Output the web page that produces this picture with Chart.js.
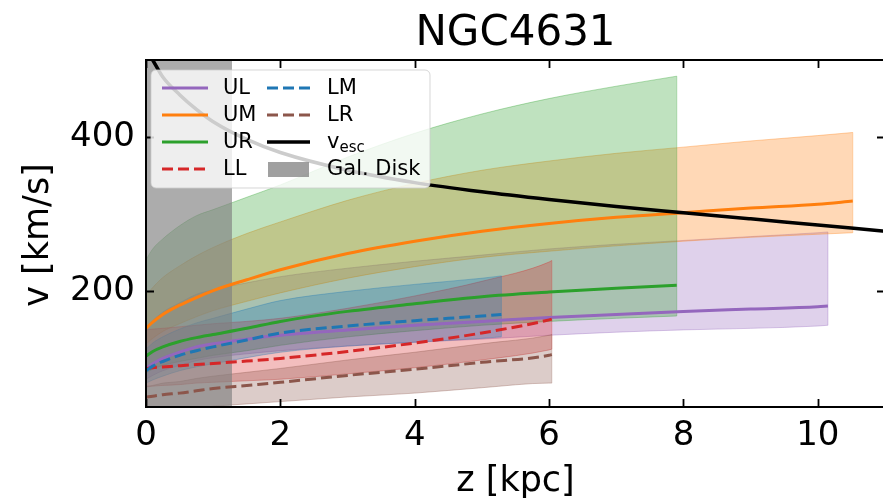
<!DOCTYPE html>
<html>
<head>
<meta charset="utf-8">
<script src="https://cdn.jsdelivr.net/npm/chart.js@4/dist/chart.umd.min.js"></script>
<style>
  html, body { margin: 0; padding: 0; background: #fff; overflow: hidden; }
</style>
</head>
<body>
<canvas id="chart" width="890" height="500"></canvas>
<script>
// values (z in kpc, v in km/s)
const zUL = [0, 0.1, 0.25, 0.5, 0.75, 1, 1.5, 2, 3, 4, 5, 6, 7, 8, 9, 10, 10.15];
const vUL = [100, 106, 113, 121, 128, 132, 138, 143, 150, 156, 161, 166, 170, 174, 177, 180, 181];
const vULhi = [153, 162, 173, 185, 196, 202, 211, 219, 230, 239, 247, 255, 261, 266, 271, 276, 277];
const vULlo = [86, 91, 97, 104, 110, 114, 119, 123, 129, 134, 138, 143, 147, 150, 152, 155, 156];

const zUM = [0, 0.1, 0.25, 0.5, 0.75, 1, 1.5, 2, 3, 4, 5, 6, 7, 8, 9, 10, 10.52];
const vUM = [152, 160, 170, 182, 192, 201, 215, 228, 249, 265, 278, 288, 296, 302, 308, 313, 317];
const vUMhi = [195, 205, 218, 233, 246, 257, 275, 290, 318, 340, 357, 369, 379, 387, 395, 402, 406];
const vUMlo = [132, 139, 148, 158, 167, 175, 187, 198, 217, 232, 244, 252, 259, 265, 270, 274, 276];

const zUR = [0, 0.1, 0.25, 0.5, 0.75, 1, 1.5, 2, 3, 4, 5, 6, 7, 7.9];
const vUR = [116, 122, 128, 135, 140, 144, 152, 161, 174, 184, 193, 199, 204, 208];
const vURhi = [241, 255, 268, 285, 298, 306, 322, 338, 374, 405, 430, 450, 466, 479];
const vURlo = [94, 99, 104, 109, 113, 117, 123, 130, 141, 149, 156, 161, 165, 168];

const zLL = [0, 0.1, 0.25, 0.5, 0.75, 1, 1.5, 2, 3, 4, 5, 6, 6.04];
const vLL = [100, 101, 102, 103.5, 105, 106.5, 109.5, 113, 122, 133, 146, 163, 164];
const vLLhi = [150, 151, 152, 154, 156, 158, 161, 165, 178, 194, 213, 238, 240];
const vLLlo = [76, 77, 78, 79, 81, 82, 84, 86, 93, 101, 111, 124, 125];

const zLM = [0, 0.1, 0.25, 0.5, 0.75, 1, 1.5, 2, 3, 4, 5, 5.29];
const vLM = [97, 103, 109, 117, 123, 128, 137, 146, 155, 162, 168, 170];
const vLMhi = [125, 133, 141, 151, 159, 165, 177, 188, 200, 209, 217, 220];
const vLMlo = [81, 85, 90, 97, 102, 106, 114, 121, 129, 134, 139, 141];

const zLR = [0, 0.1, 0.25, 0.5, 0.75, 1, 1.5, 2, 3, 4, 5, 6, 6.04];
const vLR = [63, 64, 66, 68, 71, 74, 78, 82, 91, 99, 108, 117, 118];
const vLRhi = [77, 78, 81, 83, 87, 90, 95, 100, 111, 121, 132, 143, 144];
const vLRlo = [43, 44, 46, 47, 49, 51, 54, 57, 63, 68, 75, 81, 81];

const zEsc = [0.1, 0.25, 0.5, 0.75, 1, 1.5, 2, 3, 4, 5, 6, 7, 8, 9, 10, 11];
const vEsc = [500, 478, 455, 436, 420, 397, 380, 357, 341, 329, 319, 310, 302, 294, 286, 278];

const diskZ = [0, 1.28];
const diskTop = 500;

const xTicks = [0, 2, 4, 6, 8, 10];
const yTicks = [200, 400];

const FONT = "'DejaVu Sans', 'Liberation Sans', sans-serif";

function pts(xs, ys) {
    return xs.map((x, i) => ({x: x, y: ys[i]}));
}
function rgba(hex, a) {
    const n = parseInt(hex.slice(1), 16);
    return 'rgba(' + (n >> 16) + ',' + ((n >> 8) & 255) + ',' + (n & 255) + ',' + a + ')';
}

const series = [
    {name: 'UL', color: '#9467bd', z: zUL, v: vUL, hi: vULhi, lo: vULlo, dash: []},
    {name: 'UM', color: '#ff7f0e', z: zUM, v: vUM, hi: vUMhi, lo: vUMlo, dash: []},
    {name: 'UR', color: '#2ca02c', z: zUR, v: vUR, hi: vURhi, lo: vURlo, dash: []},
    {name: 'LL', color: '#d62728', z: zLL, v: vLL, hi: vLLhi, lo: vLLlo, dash: [11, 5]},
    {name: 'LM', color: '#1f77b4', z: zLM, v: vLM, hi: vLMhi, lo: vLMlo, dash: [11, 5]},
    {name: 'LR', color: '#8c564b', z: zLR, v: vLR, hi: vLRhi, lo: vLRlo, dash: [11, 5]}
];

const datasets = [];
series.forEach((s, k) => {
    const edge = rgba(s.color, 0.35);
    const upIdx = datasets.length;
    datasets.push({data: pts(s.z, s.hi), borderColor: edge, borderWidth: 1, fill: false,
        pointRadius: 0, cubicInterpolationMode: 'monotone', order: 20 - k});
    datasets.push({data: pts(s.z, s.lo), borderColor: edge, borderWidth: 1,
        fill: {target: upIdx}, backgroundColor: rgba(s.color, 0.3),
        pointRadius: 0, cubicInterpolationMode: 'monotone', order: 20 - k});
    const last = s.z.length - 1;
    datasets.push({data: [{x: s.z[last], y: s.lo[last]}, {x: s.z[last], y: s.hi[last]}],
        borderColor: edge, borderWidth: 1, fill: false, pointRadius: 0, order: 20 - k});
});
// galactic disk
datasets.push({data: [{x: diskZ[0], y: diskTop}, {x: diskZ[1], y: diskTop}], borderWidth: 0,
    borderColor: 'rgba(0,0,0,0)', fill: 'start', backgroundColor: 'rgba(128,128,128,0.65)',
    pointRadius: 0, order: 8});
series.forEach((s, k) => {
    datasets.push({data: pts(s.z, s.v), borderColor: s.color, borderWidth: 3, borderDash: s.dash,
        fill: false, pointRadius: 0, cubicInterpolationMode: 'monotone', order: 6 - k * 0.1});
});
datasets.push({data: pts(zEsc, vEsc), borderColor: '#000', borderWidth: 3.5, fill: false,
    pointRadius: 0, cubicInterpolationMode: 'monotone', order: 1});

const decor = {
    id: 'decor',
    afterDatasetsDraw(chart) {
        const c = chart.ctx, a = chart.chartArea;
        const xs = chart.scales.x, ys = chart.scales.y;
        c.save();
        // spines
        c.strokeStyle = '#000';
        c.lineWidth = 2;
        c.strokeRect(a.left, a.top, a.right - a.left, a.bottom - a.top);
        // inward ticks on all sides
        c.lineWidth = 1.8;
        c.beginPath();
        xTicks.forEach(t => {
            const px = Math.round(xs.getPixelForValue(t)) + 0.5;
            c.moveTo(px, a.bottom); c.lineTo(px, a.bottom - 8);
            c.moveTo(px, a.top); c.lineTo(px, a.top + 8);
        });
        yTicks.forEach(t => {
            const py = Math.round(ys.getPixelForValue(t)) + 0.5;
            c.moveTo(a.left, py); c.lineTo(a.left + 8, py);
            c.moveTo(a.right, py); c.lineTo(a.right - 8, py);
        });
        c.stroke();

        // legend
        const bx = 151, by = 70, bw = 279, bh = 118, r = 5;
        c.beginPath();
        c.moveTo(bx + r, by);
        c.arcTo(bx + bw, by, bx + bw, by + bh, r);
        c.arcTo(bx + bw, by + bh, bx, by + bh, r);
        c.arcTo(bx, by + bh, bx, by, r);
        c.arcTo(bx, by, bx + bw, by, r);
        c.closePath();
        c.fillStyle = 'rgba(255,255,255,0.8)';
        c.fill();
        c.strokeStyle = 'rgba(204,204,204,0.8)';
        c.lineWidth = 1;
        c.stroke();

        const rows = [88, 115, 142, 169];
        const entries = [
            {col: 0, row: 0, s: series[0]}, {col: 0, row: 1, s: series[1]},
            {col: 0, row: 2, s: series[2]}, {col: 0, row: 3, s: series[3]},
            {col: 1, row: 0, s: series[4]}, {col: 1, row: 1, s: series[5]}
        ];
        const cols = [{h0: 162, h1: 208, tx: 223}, {h0: 267, h1: 310, tx: 327}];
        c.font = '21px ' + FONT;
        c.textBaseline = 'middle';
        c.textAlign = 'left';
        entries.forEach(e => {
            const col = cols[e.col], y = rows[e.row];
            c.strokeStyle = e.s.color;
            c.lineWidth = 3;
            c.setLineDash(e.s.dash);
            c.beginPath(); c.moveTo(col.h0, y); c.lineTo(col.h1, y); c.stroke();
            c.setLineDash([]);
            c.fillStyle = '#000';
            c.fillText(e.s.name, col.tx, y + 1);
        });
        // v_esc
        c.strokeStyle = '#000';
        c.lineWidth = 3.5;
        c.beginPath(); c.moveTo(cols[1].h0, rows[2]); c.lineTo(cols[1].h1, rows[2]); c.stroke();
        c.fillStyle = '#000';
        c.textBaseline = 'alphabetic';
        c.fillText('v', cols[1].tx, rows[2] + 6);
        const vw = c.measureText('v').width;
        c.font = '15px ' + FONT;
        c.fillText('esc', cols[1].tx + vw, rows[2] + 10);
        // Gal. Disk
        c.fillStyle = 'rgba(128,128,128,0.75)';
        c.fillRect(cols[1].h0 + 1, rows[3] - 7, 41, 15);
        c.fillStyle = '#000';
        c.font = '21px ' + FONT;
        c.textBaseline = 'middle';
        c.fillText('Gal. Disk', cols[1].tx, rows[3] + 1);

        // titles
        const cx = (a.left + a.right) / 2;
        c.textAlign = 'center';
        c.textBaseline = 'alphabetic';
        c.font = '42px ' + FONT;
        c.fillText('NGC4631', cx, 45);
        c.font = '35px ' + FONT;
        c.fillText('z [kpc]', cx, 491);
        c.translate(48, 235);
        c.rotate(-Math.PI / 2);
        c.fillText('v [km/s]', 0, 0);
        c.restore();
    }
};

new Chart(document.getElementById('chart').getContext('2d'), {
    type: 'line',
    data: {datasets: datasets},
    options: {
        responsive: false,
        animation: false,
        devicePixelRatio: 1,
        layout: {padding: {top: 60, right: 5, left: 0, bottom: 0}},
        plugins: {legend: {display: false}, tooltip: {enabled: false}, title: {display: false}},
        scales: {
            x: {
                type: 'linear', min: 0, max: 11,
                afterBuildTicks: s => { s.ticks = xTicks.map(v => ({value: v})); },
                afterFit: s => { s.height = 93; },
                grid: {display: false, drawTicks: false},
                border: {display: false},
                ticks: {color: '#000', font: {size: 34, family: FONT}, padding: 9, maxRotation: 0}
            },
            y: {
                type: 'linear', min: 50, max: 500,
                afterBuildTicks: s => { s.ticks = yTicks.map(v => ({value: v})); },
                afterFit: s => { s.width = 146; },
                grid: {display: false, drawTicks: false},
                border: {display: false},
                ticks: {color: '#000', font: {size: 34, family: FONT}, padding: 11}
            }
        }
    },
    plugins: [decor]
});
</script>
</body>
</html>
